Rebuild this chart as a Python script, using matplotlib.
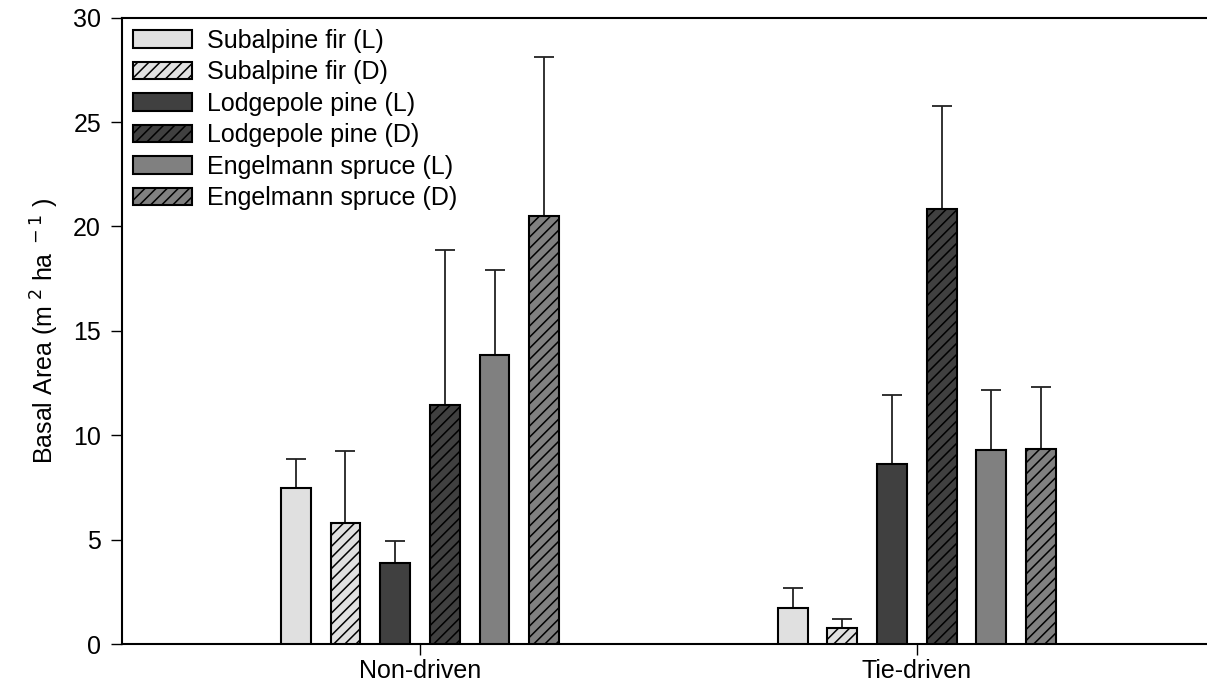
import matplotlib.pyplot as plt
import numpy as np

plt.rcParams['font.family'] = ['Liberation Sans', 'DejaVu Sans']
plt.rcParams['hatch.linewidth'] = 1.1

# sites on the x axis
sites = ['Non-driven', 'Tie-driven']

# species / status series, in legend order
labels = ['Subalpine fir (L)', 'Subalpine fir (D)',
          'Lodgepole pine (L)', 'Lodgepole pine (D)',
          'Engelmann spruce (L)', 'Engelmann spruce (D)']

# mean basal area per site (Non-driven, Tie-driven)
sf_live = [7.46, 1.74]
sf_dead = [5.81, 0.78]
lp_live = [3.91, 8.62]
lp_dead = [11.47, 20.85]
es_live = [13.86, 9.32]
es_dead = [20.50, 9.35]

# top of the error bar (mean + SE)
sf_live_top = [8.85, 2.67]
sf_dead_top = [9.26, 1.21]
lp_live_top = [4.93, 11.93]
lp_dead_top = [18.87, 25.78]
es_live_top = [17.91, 12.16]
es_dead_top = [28.13, 12.32]

means = [sf_live, sf_dead, lp_live, lp_dead, es_live, es_dead]
tops = [sf_live_top, sf_dead_top, lp_live_top, lp_dead_top, es_live_top, es_dead_top]

colors = ['#e0e0e0', '#e0e0e0', '#404040', '#404040', '#808080', '#808080']
hatches = [None, '///', None, '///', None, '///']

fig = plt.figure(figsize=(12.07, 6.89), dpi=100)
ax = fig.add_axes([0.101, 0.065, 0.899, 0.9095])

x = np.arange(len(sites))
step = 0.1
width = 0.06

for i in range(6):
    m = np.array(means[i])
    err = np.array(tops[i]) - m
    pos = x + (i - 2.5) * step
    ax.bar(pos, m, width, color=colors[i], edgecolor='black', linewidth=1.5,
           hatch=hatches[i], label=labels[i], zorder=3,
           yerr=[np.zeros_like(err), err],
           error_kw=dict(ecolor='#222222', elinewidth=1.3, capsize=7.5, capthick=1.3, zorder=2))

ax.set_xlim(-0.6, 1.584)
ax.set_ylim(0, 30)
ax.set_yticks([0, 5, 10, 15, 20, 25, 30])
ax.set_xticks(x)
ax.set_xticklabels(sites)
ax.tick_params(axis='both', labelsize=18, direction='out', length=8, width=1)
ax.tick_params(axis='y', pad=7)
ax.tick_params(axis='x', pad=3)

for s in ['left', 'bottom', 'top']:
    ax.spines[s].set_linewidth(1.5)
ax.spines['right'].set_visible(False)

ax.set_ylabel(r'Basal Area (m$^{\ 2}$ ha$^{\ -1}$ )', fontsize=18, labelpad=9)

ax.legend(loc='upper left', frameon=False, fontsize=18, handlelength=2.35,
          handleheight=0.72, handletextpad=0.6, labelspacing=0.3,
          borderaxespad=0.35, borderpad=0.1)

fig.savefig('out.png', dpi=100)
